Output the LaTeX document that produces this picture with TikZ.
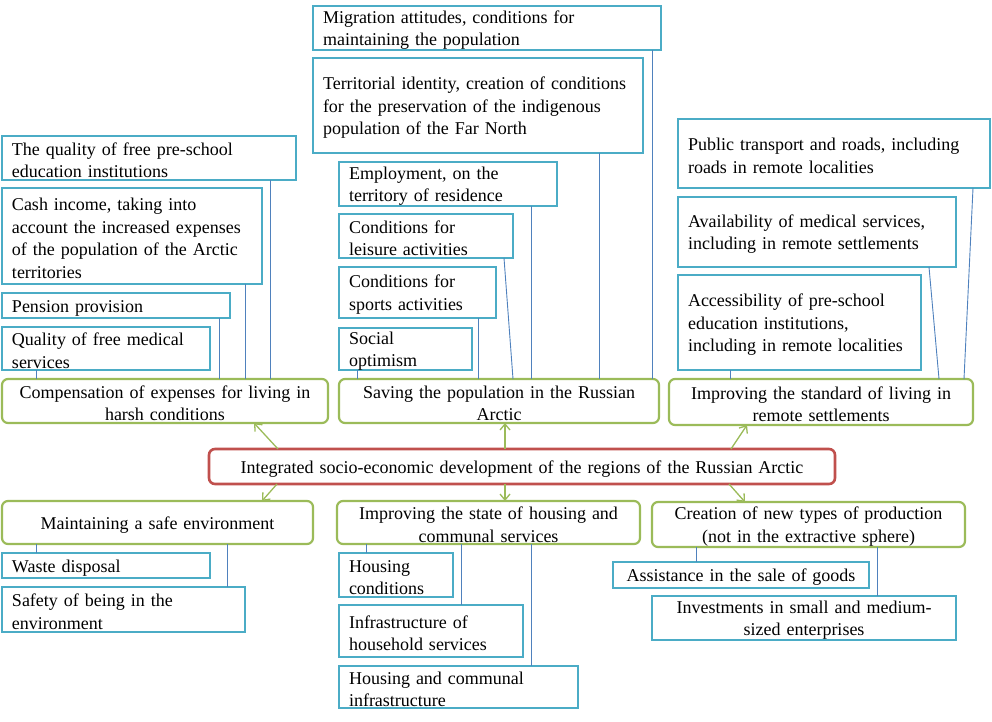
\documentclass[tikz,border=0pt]{standalone}
\usepackage{fontspec}
\setmainfont{Liberation Serif}
\usetikzlibrary{arrows.meta}
\definecolor{bbl}{HTML}{4BACC6}
\definecolor{grn}{HTML}{9BBB59}
\definecolor{rd}{HTML}{C0504D}
\definecolor{cn}{HTML}{4F81BD}
\begin{document}
\begin{tikzpicture}[x=1pt,y=-1pt,
  every node/.style={font=\fontsize{18}{22.5}\selectfont, outer sep=0pt, inner ysep=-1pt, anchor=north west,
    execute at begin node={\rule{0pt}{17pt}}},
  sz/.style n args={3}{minimum width=#1pt, minimum height=#2pt, text width=#3pt},
  bluebox/.style={draw=bbl, line width=2.6pt, align=left, inner xsep=10pt},
  bluec/.style={draw=bbl, line width=2.6pt, align=center, inner xsep=10pt},
  greenbox/.style={draw=grn, line width=2.2pt, rounded corners=6pt, align=center, inner xsep=10pt},
  redbox/.style={draw=rd, line width=2.6pt, rounded corners=6pt, align=center, inner xsep=10pt},
  conn/.style={draw=cn, line width=0.9pt},
  arr/.style={draw=grn, line width=1.3pt, -{Straight Barb[length=6pt,width=10pt]}},
]
\useasboundingbox (0,0) rectangle (992,721);

% left upper group
\node[bluebox, sz={294}{44}{274}] (qpre) at (2,136) {The quality of free pre-school\\education institutions};
\node[bluebox, sz={260}{96}{240}] (cash) at (2,188) {Cash income, taking into\\account the increased expenses\\of the population of the Arctic\\territories};
\node[bluebox, sz={228}{25}{208}] (pens) at (2,293) {Pension provision};
\node[bluebox, sz={208}{43}{188}] (qmed) at (2,327) {Quality of free medical\\services};
\node[greenbox, sz={326}{44}{306}] (comp) at (2,379) {Compensation of expenses for living in\\harsh conditions};

% middle upper group
\node[bluebox, sz={348}{44}{328}] (migr) at (313,6) {Migration attitudes, conditions for\\maintaining the population};
\node[bluebox, sz={330}{95}{310}] (terr) at (313,58) {Territorial identity, creation of conditions\\for the preservation of the indigenous\\population of the Far North};
\node[bluebox, sz={218}{44}{198}] (empl) at (339,162) {Employment, on the\\territory of residence};
\node[bluebox, sz={174}{44}{154}] (leis) at (339,214) {Conditions for\\leisure activities};
\node[bluebox, sz={157}{51}{137}] (sport) at (339,267) {Conditions for\\sports activities};
\node[bluebox, sz={133}{42}{113}] (soc) at (339,328) {Social\\optimism};
\node[greenbox, sz={320}{44}{300}] (save) at (339,379) {Saving the population in the Russian\\Arctic};

% right upper group
\node[bluebox, sz={312}{69}{292}] (transp) at (678,119) {Public transport and roads, including\\roads in remote localities};
\node[bluebox, sz={278}{70}{258}] (avail) at (678,197) {Availability of medical services,\\including in remote settlements};
\node[bluebox, sz={243}{95}{223}] (access) at (678,275) {Accessibility of pre-school\\education institutions,\\including in remote localities};
\node[greenbox, sz={304}{46}{284}] (impr) at (669,379) {Improving the standard of living in\\remote settlements};

% central
\node[redbox, sz={626}{35}{606}] (integ) at (209,449) {Integrated socio-economic development of the regions of the Russian Arctic};

% bottom left
\node[greenbox, sz={311}{43}{291}] (safe) at (2,501) {Maintaining a safe environment};
\node[bluebox, sz={208}{25}{188}] (waste) at (2,553) {Waste disposal};
\node[bluebox, sz={243}{45}{223}] (safety) at (2,587) {Safety of being in the\\environment};

% bottom middle
\node[greenbox, sz={303}{43}{283}] (house) at (337,501) {Improving the state of housing and\\communal services};
\node[bluebox, sz={114}{44}{94}] (hcond) at (339,553) {Housing\\conditions};
\node[bluebox, sz={184}{52}{164}] (infra) at (339,605) {Infrastructure of\\household services};
\node[bluebox, sz={239}{42}{219}] (hcomm) at (339,666) {Housing and communal\\infrastructure};

% bottom right
\node[greenbox, sz={313}{45}{293}] (creat) at (652,502) {Creation of new types of production\\(not in the extractive sphere)};
\node[bluec, sz={256}{26}{236}] (assist) at (613,562) {Assistance in the sale of goods};
\node[bluec, sz={304}{44}{284}] (invest) at (652,596) {Investments in small and medium-\\sized enterprises};

% connectors
\draw[conn] (36,0 |- qmed.south) -- (36,0 |- comp.north);
\draw[conn] (219,0 |- pens.south) -- (219,0 |- comp.north);
\draw[conn] (245,0 |- cash.south) -- (245,0 |- comp.north);
\draw[conn] (270,0 |- qpre.south) -- (270,0 |- comp.north);

\draw[conn] (357,0 |- soc.south) -- (357,0 |- save.north);
\draw[conn] (478,0 |- sport.south) -- (478,0 |- save.north);
\draw[conn] (504,0 |- leis.south) -- (513,0 |- save.north);
\draw[conn] (531,0 |- empl.south) -- (531,0 |- save.north);
\draw[conn] (599,0 |- terr.south) -- (599,0 |- save.north);
\draw[conn] (652,0 |- migr.south) -- (652,0 |- save.north);

\draw[conn] (730,0 |- access.south) -- (730,0 |- impr.north);
\draw[conn] (929,0 |- avail.south) -- (939,0 |- impr.north);
\draw[conn] (973,0 |- transp.south) -- (964,0 |- impr.north);

\draw[conn] (36,0 |- safe.south) -- (36,0 |- waste.north);
\draw[conn] (227,0 |- safe.south) -- (227,0 |- safety.north);

\draw[conn] (366,0 |- house.south) -- (366,0 |- hcond.north);
\draw[conn] (461,0 |- house.south) -- (461,0 |- infra.north);
\draw[conn] (531,0 |- house.south) -- (531,0 |- hcomm.north);

\draw[conn] (696,0 |- creat.south) -- (696,0 |- assist.north);
\draw[conn] (877,0 |- creat.south) -- (877,0 |- invest.north);

% arrows from the central node
\draw[arr] (278,0 |- integ.north) -- (254,0 |- comp.south);
\draw[arr] (505,0 |- integ.north) -- (505,0 |- save.south);
\draw[arr] (731,0 |- integ.north) -- (747,0 |- impr.south);
\draw[arr] (277,0 |- integ.south) -- (262,0 |- safe.north);
\draw[arr] (505,0 |- integ.south) -- (505,0 |- house.north);
\draw[arr] (729,0 |- integ.south) -- (745,0 |- creat.north);
\end{tikzpicture}
\end{document}
